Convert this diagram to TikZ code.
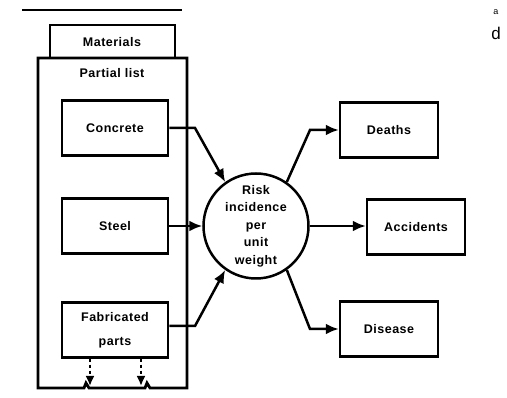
\documentclass[tikz,border=0pt]{standalone}
\usepackage{fontspec}
\setmainfont{Liberation Sans}
\usetikzlibrary{arrows.meta}
\tikzstyle{every node}=[font=\fontsize{12.5}{14}\selectfont\bfseries\addfontfeatures{LetterSpace=4},inner sep=0pt]
\tikzstyle{item}=[draw=black,line width=2.5pt,shape=rectangle,minimum width=98pt,minimum height=55pt]
\tikzstyle{link}=[line width=2.5pt,-{Latex[length=13pt,width=11pt]}]

\begin{document}
\begin{tikzpicture}[x=1pt,y=-1pt,line join=miter]
	\useasboundingbox (0,0) rectangle (507,398);
	\draw[line width=2.5pt] (22,10) -- (182,10);
	\draw[line width=2.8pt] (50,58) -- (50,25) -- (175,25) -- (175,58);
	\node (materials) at (112,42) {Materials};
	\draw[line width=2.8pt] (38,388) -- (38,58) -- (187,58) -- (187,388) -- (150,388) -- (147,383) -- (145,388)
		-- (89,388) -- (86,383) -- (84,388) -- cycle;
	\node (partial) at (112,73) {Partial list};
	\node[item,minimum width=106pt] (concrete) at (115,128) {Concrete};
	\node[item,minimum width=106pt] (steel) at (115,226) {Steel};
	\node[item,minimum width=106pt,align=center] (fabricated) at (115,330) {Fabricated\\[10pt]parts};
	\node[draw=black,line width=2.5pt,shape=circle,minimum size=105pt,align=center,
		font=\fontsize{12.5}{17.5}\selectfont\bfseries\addfontfeatures{LetterSpace=4}] (risk) at (256,226) {Risk\\incidence\\per\\unit\\weight};
	\node[item] (deaths) at (389,130) {Deaths};
	\node[item] (accidents) at (416,227) {Accidents};
	\node[item] (disease) at (389,329) {Disease};
	\draw[link] (concrete.east) -- (195,128) -- (risk.125);
	\draw[link] (steel.east) -- (risk.west);
	\draw[link] (fabricated.east |- 0,326) -- (195,326) -- (risk.235);
	\draw[link] (risk.55) -- (310,130) -- (deaths.west);
	\draw[link] (risk.east) -- (risk.east -| accidents.west);
	\draw[link] (risk.-55) -- (310,329) -- (disease.west);
	\coordinate (out1) at (90,386);
	\coordinate (out2) at (141,386);
	\draw[link,dash pattern=on 3pt off 3pt,line width=2pt,-{Latex[length=10pt,width=9pt]}] (fabricated.south -| out1) -- (out1);
	\draw[link,dash pattern=on 3pt off 3pt,line width=2pt,-{Latex[length=10pt,width=9pt]}] (fabricated.south -| out2) -- (out2);
	\node[font=\normalfont\fontsize{9}{9}\selectfont] (pagea) at (496,12) {a};
	\node[font=\normalfont\fontsize{17}{17}\selectfont] (paged) at (496,33) {d};
\end{tikzpicture}
\end{document}
